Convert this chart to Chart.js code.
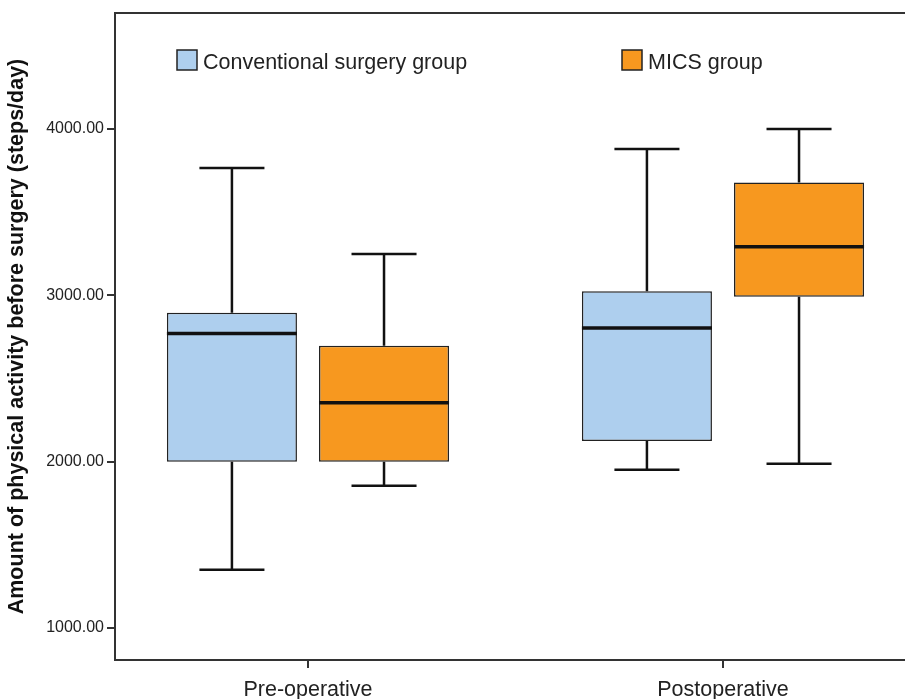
<!DOCTYPE html>
<html>
<head>
<meta charset="utf-8">
<script src="https://cdn.jsdelivr.net/npm/chart.js@4/dist/chart.umd.min.js"></script>
<style>
  html, body { margin: 0; padding: 0; background: #fff; overflow: hidden; }
  #wrap { width: 905px; height: 699px; }
</style>
</head>
<body>
<div id="wrap"><canvas id="boxChart" width="905" height="699"></canvas></div>
<script>
// Box plot values (steps/day)
const periods = ['Pre-operative', 'Postoperative'];
const groups = ['Conventional surgery group', 'MICS group'];
const groupColors = ['#aecfee', '#f7981f'];

// [pre, post] for each statistic
const convMin = [1350, 1952];
const convQ1 = [2000, 2125];
const convMedian = [2770, 2803];
const convQ3 = [2895, 3025];
const convMax = [3766, 3880];

const micsMin = [1856, 1988];
const micsQ1 = [2000, 2992];
const micsMedian = [2355, 3292];
const micsQ3 = [2697, 3678];
const micsMax = [3248, 4000];

const yTicks = [1000, 2000, 3000, 4000];

const whiskerData = [
  { min: convMin, median: convMedian, max: convMax },
  { min: micsMin, median: micsMedian, max: micsMax }
];

function boxes(q1, q3) {
  return periods.map((p, i) => ({ x: i + 1, y: [q1[i], q3[i]] }));
}

const FONT = '"Liberation Sans", Arial, sans-serif';

// whiskers, caps and median lines drawn on top of the bars
const whiskerPlugin = {
  id: 'whiskers',
  afterDatasetsDraw(chart) {
    const ctx = chart.ctx;
    const y = chart.scales.y;
    ctx.save();
    ctx.strokeStyle = '#111';
    chart.data.datasets.forEach((ds, di) => {
      const meta = chart.getDatasetMeta(di);
      const w = whiskerData[di];
      meta.data.forEach((bar, i) => {
        const half = bar.width / 2;
        const cap = bar.width / 4;
        const top = y.getPixelForValue(ds.data[i].y[1]);
        const bottom = y.getPixelForValue(ds.data[i].y[0]);
        const yMax = y.getPixelForValue(w.max[i]);
        const yMin = y.getPixelForValue(w.min[i]);
        const yMed = y.getPixelForValue(w.median[i]);
        ctx.lineWidth = 2.5;
        ctx.beginPath();
        ctx.moveTo(bar.x, top); ctx.lineTo(bar.x, yMax);
        ctx.moveTo(bar.x - cap, yMax); ctx.lineTo(bar.x + cap, yMax);
        ctx.moveTo(bar.x, bottom); ctx.lineTo(bar.x, yMin);
        ctx.moveTo(bar.x - cap, yMin); ctx.lineTo(bar.x + cap, yMin);
        ctx.stroke();
        ctx.lineWidth = 3.5;
        ctx.beginPath();
        ctx.moveTo(bar.x - half, yMed); ctx.lineTo(bar.x + half, yMed);
        ctx.stroke();
      });
    });
    ctx.restore();
  }
};

// top frame line + legend inside the plot
const framePlugin = {
  id: 'frame',
  afterDraw(chart) {
    const ctx = chart.ctx;
    const a = chart.chartArea;
    ctx.save();
    ctx.strokeStyle = '#333';
    ctx.lineWidth = 2;
    ctx.beginPath();
    ctx.moveTo(a.left, a.top);
    ctx.lineTo(chart.width, a.top);
    ctx.stroke();

    const legendX = [a.left + 62, a.left + 507];
    const ly = a.top + 37;
    ctx.font = '21.5px ' + FONT;
    ctx.textBaseline = 'middle';
    groups.forEach((g, i) => {
      ctx.fillStyle = groupColors[i];
      ctx.fillRect(legendX[i], ly, 20, 20);
      ctx.lineWidth = 1.5;
      ctx.strokeStyle = '#222';
      ctx.strokeRect(legendX[i], ly, 20, 20);
      ctx.fillStyle = '#222';
      ctx.fillText(g, legendX[i] + 26, ly + 13);
    });
    ctx.restore();
  }
};

new Chart(document.getElementById('boxChart'), {
  type: 'bar',
  data: {
    datasets: groups.map((g, i) => ({
      label: g,
      data: i === 0 ? boxes(convQ1, convQ3) : boxes(micsQ1, micsQ3),
      backgroundColor: groupColors[i],
      borderColor: '#222',
      borderWidth: 1.5,
      borderSkipped: false,
      categoryPercentage: 0.733,
      barPercentage: 0.855
    }))
  },
  options: {
    responsive: false,
    animation: false,
    devicePixelRatio: 1,
    layout: { padding: { top: 13, right: 0, left: 0, bottom: 0 } },
    plugins: {
      legend: { display: false },
      tooltip: { enabled: false }
    },
    scales: {
      x: {
        type: 'linear',
        offset: false,
        min: 0.535,
        max: 2.4386,
        afterBuildTicks: s => { s.ticks = periods.map((p, i) => ({ value: i + 1 })); },
        afterFit: s => { s.height = 39; },
        grid: { offset: false, drawOnChartArea: false, tickLength: 8, color: '#333', lineWidth: 2 },
        border: { display: true, color: '#333', width: 2 },
        ticks: {
          callback: v => periods[v - 1],
          font: { family: FONT, size: 21.5 },
          color: '#222',
          padding: 9,
          maxRotation: 0
        }
      },
      y: {
        min: 808,
        max: 4697,
        afterBuildTicks: s => { s.ticks = yTicks.map(v => ({ value: v })); },
        afterFit: s => { s.width = 115; },
        grid: { drawOnChartArea: false, tickLength: 8, color: '#333', lineWidth: 2 },
        border: { display: true, color: '#333', width: 2 },
        ticks: {
          callback: v => v.toFixed(2),
          font: { family: FONT, size: 16 },
          color: '#222',
          padding: 3
        },
        title: {
          display: true,
          text: 'Amount of physical activity before surgery (steps/day)',
          font: { family: FONT, size: 21.5, weight: 'bold' },
          color: '#111',
          padding: { top: 4, bottom: 0 }
        }
      }
    }
  },
  plugins: [whiskerPlugin, framePlugin]
});
</script>
</body>
</html>
